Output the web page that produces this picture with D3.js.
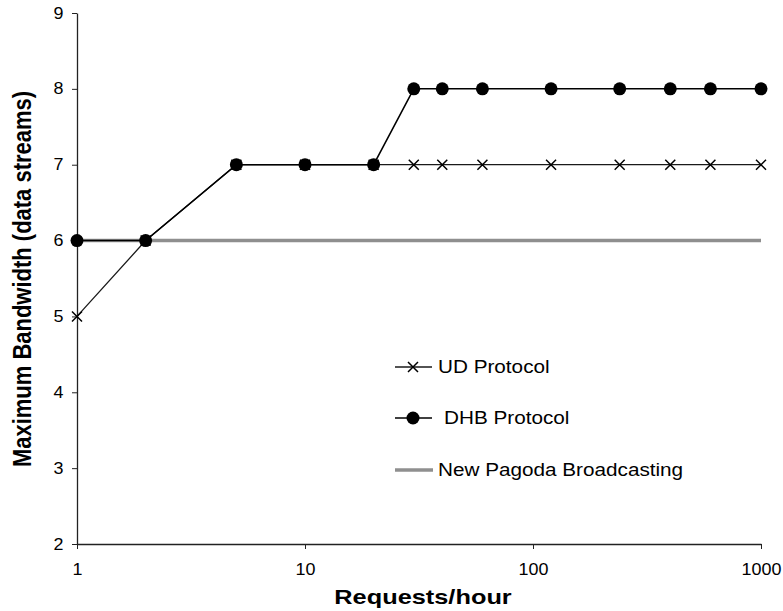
<!DOCTYPE html>
<html>
<head>
<meta charset="utf-8">
<script src="https://cdn.jsdelivr.net/npm/d3@7"></script>
<style>
  body { margin: 0; background: #fff; }
  svg { font-family: "Liberation Sans", Arial, sans-serif; }
</style>
</head>
<body>
<div id="chart"></div>
<script>
// requests per hour (log axis)
const requests = [1, 2, 5, 10, 20, 30, 40, 60, 120, 240, 400, 600, 1000];
const udProtocol = [5, 6, 7, 7, 7, 7, 7, 7, 7, 7, 7, 7, 7];
const dhbProtocol = [6, 6, 7, 7, 7, 8, 8, 8, 8, 8, 8, 8, 8];
const newPagoda = [6, 6, 6, 6, 6, 6, 6, 6, 6, 6, 6, 6, 6];
const xTicks = [1, 10, 100, 1000];
const yTicks = [2, 3, 4, 5, 6, 7, 8, 9];

const W = 783, H = 611;
const margin = { top: 13, right: 22, bottom: 67, left: 77 };
const width = W - margin.left - margin.right,
    height = H - margin.top - margin.bottom;

// the scanned figure is a little wider than tall, so text gets stretched sideways
const stretch = 1.12;

var svg = d3.select("#chart").append("svg")
    .attr("width", W)
    .attr("height", H);

var g = svg.append("g")
    .attr("transform", "translate(" + margin.left + "," + margin.top + ")");

var x = d3.scaleLog().domain([1, 1000]).range([0, width]);
var y = d3.scaleLinear().domain([2, 9]).range([height, 0]);

// axes
var xAxis = g.append("g")
    .attr("transform", "translate(0," + height + ")")
    .call(d3.axisBottom(x).tickValues(xTicks).tickFormat(d3.format("d")).tickSize(5).tickSizeOuter(0));
xAxis.selectAll("text")
    .attr("font-size", "16px")
    .attr("y", 31).attr("dy", 0)
    .attr("transform", "scale(" + stretch + ",1)")
    .attr("fill", "#000");

var yAxis = g.append("g")
    .call(d3.axisLeft(y).tickValues(yTicks).tickFormat(d3.format("d")).tickSize(5).tickSizeOuter(0));
yAxis.selectAll("text")
    .attr("font-size", "16px")
    .attr("x", -12)
    .attr("transform", "scale(" + stretch + ",1)")
    .attr("fill", "#000");

g.selectAll(".domain").attr("stroke", "#222").attr("stroke-width", 1.3);
g.selectAll(".tick line").attr("stroke", "#222");

// axis titles
svg.append("text")
    .attr("transform", "translate(423,604) scale(1.3,1)")
    .attr("text-anchor", "middle")
    .attr("font-size", "19.5px")
    .attr("font-weight", "bold")
    .text("Requests/hour");

svg.append("text")
    .attr("transform", "translate(31,279) scale(1.15,1) rotate(-90)")
    .attr("text-anchor", "middle")
    .attr("font-size", "22px")
    .attr("font-weight", "bold")
    .text("Maximum Bandwidth (data streams)");

var line = d3.line()
    .x((d) => x(d[0]))
    .y((d) => y(d[1]));

// New Pagoda Broadcasting: thick grey line
g.append("path")
    .datum(requests.map((r, i) => [r, newPagoda[i]]))
    .attr("fill", "none")
    .attr("stroke", "#8f8f8f")
    .attr("stroke-width", 3.5)
    .attr("d", line);

// UD protocol
var udData = requests.map((r, i) => [r, udProtocol[i]]);
g.append("path")
    .datum(udData)
    .attr("fill", "none")
    .attr("stroke", "#1a1a1a")
    .attr("stroke-width", 1.3)
    .attr("d", line);

const cross = "M-5,-5L5,5M-5,5L5,-5";
g.selectAll(".ud")
    .data(udData)
    .enter().append("path")
    .attr("class", "ud")
    .attr("transform", (d) => "translate(" + x(d[0]) + "," + y(d[1]) + ")")
    .attr("d", cross)
    .attr("stroke", "#000")
    .attr("stroke-width", 1.5);

// DHB protocol
var dhbData = requests.map((r, i) => [r, dhbProtocol[i]]);
g.append("path")
    .datum(dhbData)
    .attr("fill", "none")
    .attr("stroke", "#000")
    .attr("stroke-width", 1.5)
    .attr("d", line);

g.selectAll(".dhb")
    .data(dhbData)
    .enter().append("circle")
    .attr("class", "dhb")
    .attr("cx", (d) => x(d[0]))
    .attr("cy", (d) => y(d[1]))
    .attr("r", 6.5)
    .attr("fill", "#000");

// legend
var legend = svg.append("g");
var items = [
    { name: "UD Protocol", y: 367, tx: 438 },
    { name: "DHB Protocol", y: 418, tx: 444 },
    { name: "New Pagoda Broadcasting", y: 470, tx: 438 }
];

legend.append("line")
    .attr("x1", 395).attr("x2", 432)
    .attr("y1", items[0].y).attr("y2", items[0].y)
    .attr("stroke", "#1a1a1a").attr("stroke-width", 1.3);
legend.append("path")
    .attr("transform", "translate(413," + items[0].y + ")")
    .attr("d", cross)
    .attr("stroke", "#000").attr("stroke-width", 1.5);

legend.append("line")
    .attr("x1", 395).attr("x2", 432)
    .attr("y1", items[1].y).attr("y2", items[1].y)
    .attr("stroke", "#000").attr("stroke-width", 1.5);
legend.append("circle")
    .attr("cx", 413).attr("cy", items[1].y).attr("r", 6.5)
    .attr("fill", "#000");

legend.append("line")
    .attr("x1", 395).attr("x2", 433)
    .attr("y1", items[2].y).attr("y2", items[2].y)
    .attr("stroke", "#8f8f8f").attr("stroke-width", 3.5);

legend.selectAll(".ltext")
    .data(items)
    .enter().append("text")
    .attr("class", "ltext")
    .attr("transform", (d) => "translate(" + d.tx + "," + d.y + ") scale(1.12,1)")
    .attr("dy", "0.35em")
    .attr("font-size", "18.5px")
    .text((d) => d.name);
</script>
</body>
</html>
